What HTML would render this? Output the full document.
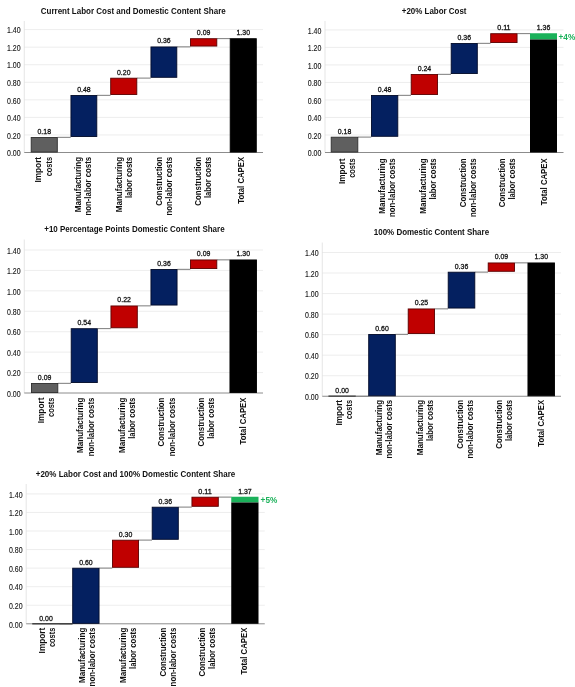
<!DOCTYPE html>
<html lang="en"><head><meta charset="utf-8"><title>Waterfall charts</title>
<style>html,body{margin:0;padding:0;background:#fff}body{width:575px;height:687px;overflow:hidden}svg{display:block}text{font-family:"Liberation Sans", sans-serif}.t{font-size:8.2px;font-weight:bold;fill:#111}.c{font-size:8.6px;font-weight:bold;fill:#111}.y{font-size:8.4px;fill:#151515;stroke:#151515;stroke-width:0.12px}.v{font-size:7.7px;fill:#111;stroke:#111;stroke-width:0.3px}.p{font-size:8.5px;font-weight:bold;fill:#1bb15a}</style></head><body>
<svg width="575" height="687" viewBox="0 0 575 687">
<rect width="575" height="687" fill="#fff"/>
<g>
<text class="t" x="40.75" y="14.05" textLength="184.95" lengthAdjust="spacingAndGlyphs">Current Labor Cost and Domestic Content Share</text>
<line x1="24.25" y1="134.94" x2="263.00" y2="134.94" stroke="#e9e9e9" stroke-width="0.8"/>
<line x1="24.25" y1="117.39" x2="263.00" y2="117.39" stroke="#e9e9e9" stroke-width="0.8"/>
<line x1="24.25" y1="99.83" x2="263.00" y2="99.83" stroke="#e9e9e9" stroke-width="0.8"/>
<line x1="24.25" y1="82.27" x2="263.00" y2="82.27" stroke="#e9e9e9" stroke-width="0.8"/>
<line x1="24.25" y1="64.71" x2="263.00" y2="64.71" stroke="#e9e9e9" stroke-width="0.8"/>
<line x1="24.25" y1="47.16" x2="263.00" y2="47.16" stroke="#e9e9e9" stroke-width="0.8"/>
<line x1="24.25" y1="29.60" x2="263.00" y2="29.60" stroke="#e9e9e9" stroke-width="0.8"/>
<line x1="24.25" y1="21.00" x2="24.25" y2="152.50" stroke="#dedede" stroke-width="0.8"/>
<text class="y" x="20.60" y="156.20" text-anchor="end" textLength="13.6" lengthAdjust="spacingAndGlyphs">0.00</text>
<text class="y" x="20.60" y="138.64" text-anchor="end" textLength="13.6" lengthAdjust="spacingAndGlyphs">0.20</text>
<text class="y" x="20.60" y="121.09" text-anchor="end" textLength="13.6" lengthAdjust="spacingAndGlyphs">0.40</text>
<text class="y" x="20.60" y="103.53" text-anchor="end" textLength="13.6" lengthAdjust="spacingAndGlyphs">0.60</text>
<text class="y" x="20.60" y="85.97" text-anchor="end" textLength="13.6" lengthAdjust="spacingAndGlyphs">0.80</text>
<text class="y" x="20.60" y="68.41" text-anchor="end" textLength="13.6" lengthAdjust="spacingAndGlyphs">1.00</text>
<text class="y" x="20.60" y="50.86" text-anchor="end" textLength="13.6" lengthAdjust="spacingAndGlyphs">1.20</text>
<text class="y" x="20.60" y="33.30" text-anchor="end" textLength="13.6" lengthAdjust="spacingAndGlyphs">1.40</text>
<line x1="24.25" y1="152.50" x2="263.00" y2="152.50" stroke="#8c8c8c" stroke-width="1"/>
<line x1="57.50" y1="137.35" x2="70.75" y2="137.35" stroke="#828282" stroke-width="1.05"/>
<line x1="97.00" y1="95.35" x2="110.50" y2="95.35" stroke="#828282" stroke-width="1.05"/>
<line x1="137.00" y1="78.10" x2="150.75" y2="78.10" stroke="#828282" stroke-width="1.05"/>
<line x1="177.00" y1="46.85" x2="190.25" y2="46.85" stroke="#828282" stroke-width="1.05"/>
<line x1="217.00" y1="38.60" x2="230.00" y2="38.60" stroke="#828282" stroke-width="1.05"/>
<rect x="31.20" y="137.45" width="26.10" height="14.60" fill="#5f5f5f" stroke="#2e2e2e" stroke-width="0.9"/>
<text class="v" x="44.25" y="133.80" text-anchor="middle" textLength="13.5" lengthAdjust="spacingAndGlyphs">0.18</text>
<rect x="70.95" y="95.45" width="25.85" height="41.10" fill="#042060" stroke="#020a28" stroke-width="0.9"/>
<text class="v" x="83.88" y="91.80" text-anchor="middle" textLength="13.5" lengthAdjust="spacingAndGlyphs">0.48</text>
<rect x="110.70" y="78.20" width="26.10" height="16.35" fill="#c00000" stroke="#5a0000" stroke-width="0.9"/>
<text class="v" x="123.75" y="74.55" text-anchor="middle" textLength="13.5" lengthAdjust="spacingAndGlyphs">0.20</text>
<rect x="150.95" y="46.95" width="25.85" height="30.35" fill="#042060" stroke="#020a28" stroke-width="0.9"/>
<text class="v" x="163.88" y="43.30" text-anchor="middle" textLength="13.5" lengthAdjust="spacingAndGlyphs">0.36</text>
<rect x="190.45" y="38.70" width="26.35" height="7.35" fill="#c00000" stroke="#5a0000" stroke-width="0.9"/>
<text class="v" x="203.62" y="35.05" text-anchor="middle" textLength="13.5" lengthAdjust="spacingAndGlyphs">0.09</text>
<rect x="230.20" y="38.70" width="26.10" height="113.35" fill="#000" stroke="#000" stroke-width="0.9"/>
<text class="v" x="243.25" y="35.05" text-anchor="middle" textLength="13.5" lengthAdjust="spacingAndGlyphs">1.30</text>
<text class="c" transform="translate(41.40 156.90) rotate(-90)" text-anchor="end" textLength="25.70" lengthAdjust="spacingAndGlyphs">Import</text>
<text class="c" transform="translate(51.60 156.90) rotate(-90)" text-anchor="end" textLength="19.40" lengthAdjust="spacingAndGlyphs">costs</text>
<text class="c" transform="translate(81.00 156.90) rotate(-90)" text-anchor="end" textLength="55.30" lengthAdjust="spacingAndGlyphs">Manufacturing</text>
<text class="c" transform="translate(91.20 156.90) rotate(-90)" text-anchor="end" textLength="58.70" lengthAdjust="spacingAndGlyphs">non-labor costs</text>
<text class="c" transform="translate(122.20 156.90) rotate(-90)" text-anchor="end" textLength="55.30" lengthAdjust="spacingAndGlyphs">Manufacturing</text>
<text class="c" transform="translate(132.40 156.90) rotate(-90)" text-anchor="end" textLength="41.20" lengthAdjust="spacingAndGlyphs">labor costs</text>
<text class="c" transform="translate(162.00 156.90) rotate(-90)" text-anchor="end" textLength="48.80" lengthAdjust="spacingAndGlyphs">Construction</text>
<text class="c" transform="translate(172.20 156.90) rotate(-90)" text-anchor="end" textLength="58.70" lengthAdjust="spacingAndGlyphs">non-labor costs</text>
<text class="c" transform="translate(201.20 156.90) rotate(-90)" text-anchor="end" textLength="48.80" lengthAdjust="spacingAndGlyphs">Construction</text>
<text class="c" transform="translate(211.40 156.90) rotate(-90)" text-anchor="end" textLength="41.20" lengthAdjust="spacingAndGlyphs">labor costs</text>
<text class="c" transform="translate(243.60 156.90) rotate(-90)" text-anchor="end" textLength="46.80" lengthAdjust="spacingAndGlyphs">Total CAPEX</text>
</g>
<g>
<text class="t" x="401.75" y="14.25" textLength="64.75" lengthAdjust="spacingAndGlyphs">+20% Labor Cost</text>
<line x1="325.00" y1="134.99" x2="563.50" y2="134.99" stroke="#e9e9e9" stroke-width="0.8"/>
<line x1="325.00" y1="117.47" x2="563.50" y2="117.47" stroke="#e9e9e9" stroke-width="0.8"/>
<line x1="325.00" y1="99.96" x2="563.50" y2="99.96" stroke="#e9e9e9" stroke-width="0.8"/>
<line x1="325.00" y1="82.44" x2="563.50" y2="82.44" stroke="#e9e9e9" stroke-width="0.8"/>
<line x1="325.00" y1="64.93" x2="563.50" y2="64.93" stroke="#e9e9e9" stroke-width="0.8"/>
<line x1="325.00" y1="47.41" x2="563.50" y2="47.41" stroke="#e9e9e9" stroke-width="0.8"/>
<line x1="325.00" y1="29.90" x2="563.50" y2="29.90" stroke="#e9e9e9" stroke-width="0.8"/>
<line x1="325.00" y1="21.00" x2="325.00" y2="152.50" stroke="#dedede" stroke-width="0.8"/>
<text class="y" x="321.35" y="156.20" text-anchor="end" textLength="13.6" lengthAdjust="spacingAndGlyphs">0.00</text>
<text class="y" x="321.35" y="138.69" text-anchor="end" textLength="13.6" lengthAdjust="spacingAndGlyphs">0.20</text>
<text class="y" x="321.35" y="121.17" text-anchor="end" textLength="13.6" lengthAdjust="spacingAndGlyphs">0.40</text>
<text class="y" x="321.35" y="103.66" text-anchor="end" textLength="13.6" lengthAdjust="spacingAndGlyphs">0.60</text>
<text class="y" x="321.35" y="86.14" text-anchor="end" textLength="13.6" lengthAdjust="spacingAndGlyphs">0.80</text>
<text class="y" x="321.35" y="68.63" text-anchor="end" textLength="13.6" lengthAdjust="spacingAndGlyphs">1.00</text>
<text class="y" x="321.35" y="51.11" text-anchor="end" textLength="13.6" lengthAdjust="spacingAndGlyphs">1.20</text>
<text class="y" x="321.35" y="33.60" text-anchor="end" textLength="13.6" lengthAdjust="spacingAndGlyphs">1.40</text>
<line x1="325.00" y1="152.50" x2="563.50" y2="152.50" stroke="#8c8c8c" stroke-width="1"/>
<line x1="358.00" y1="137.10" x2="371.25" y2="137.10" stroke="#828282" stroke-width="1.05"/>
<line x1="398.00" y1="95.35" x2="411.00" y2="95.35" stroke="#828282" stroke-width="1.05"/>
<line x1="437.75" y1="74.35" x2="451.00" y2="74.35" stroke="#828282" stroke-width="1.05"/>
<line x1="477.50" y1="43.35" x2="490.50" y2="43.35" stroke="#828282" stroke-width="1.05"/>
<line x1="517.25" y1="33.60" x2="530.25" y2="33.60" stroke="#828282" stroke-width="1.05"/>
<rect x="331.20" y="137.20" width="26.60" height="14.85" fill="#5f5f5f" stroke="#2e2e2e" stroke-width="0.9"/>
<text class="v" x="344.50" y="133.55" text-anchor="middle" textLength="13.5" lengthAdjust="spacingAndGlyphs">0.18</text>
<rect x="371.45" y="95.45" width="26.35" height="40.85" fill="#042060" stroke="#020a28" stroke-width="0.9"/>
<text class="v" x="384.62" y="91.80" text-anchor="middle" textLength="13.5" lengthAdjust="spacingAndGlyphs">0.48</text>
<rect x="411.20" y="74.45" width="26.35" height="20.10" fill="#c00000" stroke="#5a0000" stroke-width="0.9"/>
<text class="v" x="424.38" y="70.80" text-anchor="middle" textLength="13.5" lengthAdjust="spacingAndGlyphs">0.24</text>
<rect x="451.20" y="43.45" width="26.10" height="30.10" fill="#042060" stroke="#020a28" stroke-width="0.9"/>
<text class="v" x="464.25" y="39.80" text-anchor="middle" textLength="13.5" lengthAdjust="spacingAndGlyphs">0.36</text>
<rect x="490.70" y="33.70" width="26.35" height="8.85" fill="#c00000" stroke="#5a0000" stroke-width="0.9"/>
<text class="v" x="503.88" y="30.05" text-anchor="middle" textLength="13.5" lengthAdjust="spacingAndGlyphs">0.11</text>
<rect x="530.00" y="33.25" width="27.00" height="6.25" fill="#1bb15a"/>
<rect x="530.00" y="39.50" width="27.00" height="113.00" fill="#000"/>
<text class="v" x="543.50" y="30.05" text-anchor="middle" textLength="13.5" lengthAdjust="spacingAndGlyphs">1.36</text>
<text class="p" x="558.50" y="40.00" textLength="16.7" lengthAdjust="spacingAndGlyphs">+4%</text>
<text class="c" transform="translate(345.10 158.40) rotate(-90)" text-anchor="end" textLength="25.70" lengthAdjust="spacingAndGlyphs">Import</text>
<text class="c" transform="translate(355.30 158.40) rotate(-90)" text-anchor="end" textLength="19.40" lengthAdjust="spacingAndGlyphs">costs</text>
<text class="c" transform="translate(384.70 158.40) rotate(-90)" text-anchor="end" textLength="55.30" lengthAdjust="spacingAndGlyphs">Manufacturing</text>
<text class="c" transform="translate(394.90 158.40) rotate(-90)" text-anchor="end" textLength="58.70" lengthAdjust="spacingAndGlyphs">non-labor costs</text>
<text class="c" transform="translate(425.90 158.40) rotate(-90)" text-anchor="end" textLength="55.30" lengthAdjust="spacingAndGlyphs">Manufacturing</text>
<text class="c" transform="translate(436.10 158.40) rotate(-90)" text-anchor="end" textLength="41.20" lengthAdjust="spacingAndGlyphs">labor costs</text>
<text class="c" transform="translate(465.70 158.40) rotate(-90)" text-anchor="end" textLength="48.80" lengthAdjust="spacingAndGlyphs">Construction</text>
<text class="c" transform="translate(475.90 158.40) rotate(-90)" text-anchor="end" textLength="58.70" lengthAdjust="spacingAndGlyphs">non-labor costs</text>
<text class="c" transform="translate(504.90 158.40) rotate(-90)" text-anchor="end" textLength="48.80" lengthAdjust="spacingAndGlyphs">Construction</text>
<text class="c" transform="translate(515.10 158.40) rotate(-90)" text-anchor="end" textLength="41.20" lengthAdjust="spacingAndGlyphs">labor costs</text>
<text class="c" transform="translate(547.30 158.40) rotate(-90)" text-anchor="end" textLength="46.80" lengthAdjust="spacingAndGlyphs">Total CAPEX</text>
</g>
<g>
<text class="t" x="44.25" y="232.15" textLength="180.35" lengthAdjust="spacingAndGlyphs">+10 Percentage Points Domestic Content Share</text>
<line x1="24.25" y1="372.57" x2="263.00" y2="372.57" stroke="#e9e9e9" stroke-width="0.8"/>
<line x1="24.25" y1="352.14" x2="263.00" y2="352.14" stroke="#e9e9e9" stroke-width="0.8"/>
<line x1="24.25" y1="331.71" x2="263.00" y2="331.71" stroke="#e9e9e9" stroke-width="0.8"/>
<line x1="24.25" y1="311.29" x2="263.00" y2="311.29" stroke="#e9e9e9" stroke-width="0.8"/>
<line x1="24.25" y1="290.86" x2="263.00" y2="290.86" stroke="#e9e9e9" stroke-width="0.8"/>
<line x1="24.25" y1="270.43" x2="263.00" y2="270.43" stroke="#e9e9e9" stroke-width="0.8"/>
<line x1="24.25" y1="250.00" x2="263.00" y2="250.00" stroke="#e9e9e9" stroke-width="0.8"/>
<line x1="24.25" y1="239.50" x2="24.25" y2="393.00" stroke="#dedede" stroke-width="0.8"/>
<text class="y" x="20.60" y="396.70" text-anchor="end" textLength="13.6" lengthAdjust="spacingAndGlyphs">0.00</text>
<text class="y" x="20.60" y="376.27" text-anchor="end" textLength="13.6" lengthAdjust="spacingAndGlyphs">0.20</text>
<text class="y" x="20.60" y="355.84" text-anchor="end" textLength="13.6" lengthAdjust="spacingAndGlyphs">0.40</text>
<text class="y" x="20.60" y="335.41" text-anchor="end" textLength="13.6" lengthAdjust="spacingAndGlyphs">0.60</text>
<text class="y" x="20.60" y="314.99" text-anchor="end" textLength="13.6" lengthAdjust="spacingAndGlyphs">0.80</text>
<text class="y" x="20.60" y="294.56" text-anchor="end" textLength="13.6" lengthAdjust="spacingAndGlyphs">1.00</text>
<text class="y" x="20.60" y="274.13" text-anchor="end" textLength="13.6" lengthAdjust="spacingAndGlyphs">1.20</text>
<text class="y" x="20.60" y="253.70" text-anchor="end" textLength="13.6" lengthAdjust="spacingAndGlyphs">1.40</text>
<line x1="24.25" y1="393.00" x2="263.00" y2="393.00" stroke="#8c8c8c" stroke-width="1"/>
<line x1="58.00" y1="383.35" x2="71.00" y2="383.35" stroke="#828282" stroke-width="1.05"/>
<line x1="97.50" y1="328.60" x2="110.75" y2="328.60" stroke="#828282" stroke-width="1.05"/>
<line x1="137.50" y1="305.85" x2="150.75" y2="305.85" stroke="#828282" stroke-width="1.05"/>
<line x1="177.25" y1="269.35" x2="190.25" y2="269.35" stroke="#828282" stroke-width="1.05"/>
<line x1="217.00" y1="259.85" x2="229.75" y2="259.85" stroke="#828282" stroke-width="1.05"/>
<rect x="31.45" y="383.45" width="26.35" height="9.10" fill="#5f5f5f" stroke="#2e2e2e" stroke-width="0.9"/>
<text class="v" x="44.62" y="379.80" text-anchor="middle" textLength="13.5" lengthAdjust="spacingAndGlyphs">0.09</text>
<rect x="71.20" y="328.70" width="26.10" height="53.85" fill="#042060" stroke="#020a28" stroke-width="0.9"/>
<text class="v" x="84.25" y="325.05" text-anchor="middle" textLength="13.5" lengthAdjust="spacingAndGlyphs">0.54</text>
<rect x="110.95" y="305.95" width="26.35" height="21.85" fill="#c00000" stroke="#5a0000" stroke-width="0.9"/>
<text class="v" x="124.12" y="302.30" text-anchor="middle" textLength="13.5" lengthAdjust="spacingAndGlyphs">0.22</text>
<rect x="150.95" y="269.45" width="26.10" height="35.60" fill="#042060" stroke="#020a28" stroke-width="0.9"/>
<text class="v" x="164.00" y="265.80" text-anchor="middle" textLength="13.5" lengthAdjust="spacingAndGlyphs">0.36</text>
<rect x="190.45" y="259.95" width="26.35" height="8.60" fill="#c00000" stroke="#5a0000" stroke-width="0.9"/>
<text class="v" x="203.62" y="256.30" text-anchor="middle" textLength="13.5" lengthAdjust="spacingAndGlyphs">0.09</text>
<rect x="229.95" y="259.95" width="26.60" height="132.60" fill="#000" stroke="#000" stroke-width="0.9"/>
<text class="v" x="243.25" y="256.30" text-anchor="middle" textLength="13.5" lengthAdjust="spacingAndGlyphs">1.30</text>
<text class="c" transform="translate(43.80 397.60) rotate(-90)" text-anchor="end" textLength="25.70" lengthAdjust="spacingAndGlyphs">Import</text>
<text class="c" transform="translate(54.00 397.60) rotate(-90)" text-anchor="end" textLength="19.40" lengthAdjust="spacingAndGlyphs">costs</text>
<text class="c" transform="translate(83.40 397.60) rotate(-90)" text-anchor="end" textLength="55.30" lengthAdjust="spacingAndGlyphs">Manufacturing</text>
<text class="c" transform="translate(93.60 397.60) rotate(-90)" text-anchor="end" textLength="58.70" lengthAdjust="spacingAndGlyphs">non-labor costs</text>
<text class="c" transform="translate(124.60 397.60) rotate(-90)" text-anchor="end" textLength="55.30" lengthAdjust="spacingAndGlyphs">Manufacturing</text>
<text class="c" transform="translate(134.80 397.60) rotate(-90)" text-anchor="end" textLength="41.20" lengthAdjust="spacingAndGlyphs">labor costs</text>
<text class="c" transform="translate(164.40 397.60) rotate(-90)" text-anchor="end" textLength="48.80" lengthAdjust="spacingAndGlyphs">Construction</text>
<text class="c" transform="translate(174.60 397.60) rotate(-90)" text-anchor="end" textLength="58.70" lengthAdjust="spacingAndGlyphs">non-labor costs</text>
<text class="c" transform="translate(203.60 397.60) rotate(-90)" text-anchor="end" textLength="48.80" lengthAdjust="spacingAndGlyphs">Construction</text>
<text class="c" transform="translate(213.80 397.60) rotate(-90)" text-anchor="end" textLength="41.20" lengthAdjust="spacingAndGlyphs">labor costs</text>
<text class="c" transform="translate(246.00 397.60) rotate(-90)" text-anchor="end" textLength="46.80" lengthAdjust="spacingAndGlyphs">Total CAPEX</text>
</g>
<g>
<text class="t" x="373.75" y="235.15" textLength="115.35" lengthAdjust="spacingAndGlyphs">100% Domestic Content Share</text>
<line x1="322.25" y1="375.71" x2="561.00" y2="375.71" stroke="#e9e9e9" stroke-width="0.8"/>
<line x1="322.25" y1="355.18" x2="561.00" y2="355.18" stroke="#e9e9e9" stroke-width="0.8"/>
<line x1="322.25" y1="334.64" x2="561.00" y2="334.64" stroke="#e9e9e9" stroke-width="0.8"/>
<line x1="322.25" y1="314.11" x2="561.00" y2="314.11" stroke="#e9e9e9" stroke-width="0.8"/>
<line x1="322.25" y1="293.57" x2="561.00" y2="293.57" stroke="#e9e9e9" stroke-width="0.8"/>
<line x1="322.25" y1="273.04" x2="561.00" y2="273.04" stroke="#e9e9e9" stroke-width="0.8"/>
<line x1="322.25" y1="252.50" x2="561.00" y2="252.50" stroke="#e9e9e9" stroke-width="0.8"/>
<line x1="322.25" y1="242.50" x2="322.25" y2="396.25" stroke="#dedede" stroke-width="0.8"/>
<text class="y" x="318.60" y="399.95" text-anchor="end" textLength="13.6" lengthAdjust="spacingAndGlyphs">0.00</text>
<text class="y" x="318.60" y="379.41" text-anchor="end" textLength="13.6" lengthAdjust="spacingAndGlyphs">0.20</text>
<text class="y" x="318.60" y="358.88" text-anchor="end" textLength="13.6" lengthAdjust="spacingAndGlyphs">0.40</text>
<text class="y" x="318.60" y="338.34" text-anchor="end" textLength="13.6" lengthAdjust="spacingAndGlyphs">0.60</text>
<text class="y" x="318.60" y="317.81" text-anchor="end" textLength="13.6" lengthAdjust="spacingAndGlyphs">0.80</text>
<text class="y" x="318.60" y="297.27" text-anchor="end" textLength="13.6" lengthAdjust="spacingAndGlyphs">1.00</text>
<text class="y" x="318.60" y="276.74" text-anchor="end" textLength="13.6" lengthAdjust="spacingAndGlyphs">1.20</text>
<text class="y" x="318.60" y="256.20" text-anchor="end" textLength="13.6" lengthAdjust="spacingAndGlyphs">1.40</text>
<line x1="322.25" y1="396.25" x2="561.00" y2="396.25" stroke="#8c8c8c" stroke-width="1"/>
<line x1="355.50" y1="396.25" x2="368.50" y2="396.25" stroke="#828282" stroke-width="1.05"/>
<line x1="395.50" y1="334.35" x2="408.00" y2="334.35" stroke="#828282" stroke-width="1.05"/>
<line x1="434.75" y1="308.85" x2="448.00" y2="308.85" stroke="#828282" stroke-width="1.05"/>
<line x1="475.00" y1="272.10" x2="488.00" y2="272.10" stroke="#828282" stroke-width="1.05"/>
<line x1="514.75" y1="262.85" x2="527.75" y2="262.85" stroke="#828282" stroke-width="1.05"/>
<line x1="328.45" y1="396.15" x2="355.75" y2="396.15" stroke="#444" stroke-width="1.4"/>
<text class="v" x="342.10" y="393.05" text-anchor="middle" textLength="13.5" lengthAdjust="spacingAndGlyphs">0.00</text>
<rect x="368.70" y="334.45" width="26.60" height="61.35" fill="#042060" stroke="#020a28" stroke-width="0.9"/>
<text class="v" x="382.00" y="330.80" text-anchor="middle" textLength="13.5" lengthAdjust="spacingAndGlyphs">0.60</text>
<rect x="408.20" y="308.95" width="26.35" height="24.60" fill="#c00000" stroke="#5a0000" stroke-width="0.9"/>
<text class="v" x="421.38" y="305.30" text-anchor="middle" textLength="13.5" lengthAdjust="spacingAndGlyphs">0.25</text>
<rect x="448.20" y="272.20" width="26.60" height="35.85" fill="#042060" stroke="#020a28" stroke-width="0.9"/>
<text class="v" x="461.50" y="268.55" text-anchor="middle" textLength="13.5" lengthAdjust="spacingAndGlyphs">0.36</text>
<rect x="488.20" y="262.95" width="26.35" height="8.35" fill="#c00000" stroke="#5a0000" stroke-width="0.9"/>
<text class="v" x="501.38" y="259.30" text-anchor="middle" textLength="13.5" lengthAdjust="spacingAndGlyphs">0.09</text>
<rect x="527.95" y="262.95" width="26.60" height="132.85" fill="#000" stroke="#000" stroke-width="0.9"/>
<text class="v" x="541.25" y="259.30" text-anchor="middle" textLength="13.5" lengthAdjust="spacingAndGlyphs">1.30</text>
<text class="c" transform="translate(342.20 399.90) rotate(-90)" text-anchor="end" textLength="25.70" lengthAdjust="spacingAndGlyphs">Import</text>
<text class="c" transform="translate(352.40 399.90) rotate(-90)" text-anchor="end" textLength="19.40" lengthAdjust="spacingAndGlyphs">costs</text>
<text class="c" transform="translate(381.80 399.90) rotate(-90)" text-anchor="end" textLength="55.30" lengthAdjust="spacingAndGlyphs">Manufacturing</text>
<text class="c" transform="translate(392.00 399.90) rotate(-90)" text-anchor="end" textLength="58.70" lengthAdjust="spacingAndGlyphs">non-labor costs</text>
<text class="c" transform="translate(423.00 399.90) rotate(-90)" text-anchor="end" textLength="55.30" lengthAdjust="spacingAndGlyphs">Manufacturing</text>
<text class="c" transform="translate(433.20 399.90) rotate(-90)" text-anchor="end" textLength="41.20" lengthAdjust="spacingAndGlyphs">labor costs</text>
<text class="c" transform="translate(462.80 399.90) rotate(-90)" text-anchor="end" textLength="48.80" lengthAdjust="spacingAndGlyphs">Construction</text>
<text class="c" transform="translate(473.00 399.90) rotate(-90)" text-anchor="end" textLength="58.70" lengthAdjust="spacingAndGlyphs">non-labor costs</text>
<text class="c" transform="translate(502.00 399.90) rotate(-90)" text-anchor="end" textLength="48.80" lengthAdjust="spacingAndGlyphs">Construction</text>
<text class="c" transform="translate(512.20 399.90) rotate(-90)" text-anchor="end" textLength="41.20" lengthAdjust="spacingAndGlyphs">labor costs</text>
<text class="c" transform="translate(544.40 399.90) rotate(-90)" text-anchor="end" textLength="46.80" lengthAdjust="spacingAndGlyphs">Total CAPEX</text>
</g>
<g>
<text class="t" x="35.75" y="477.15" textLength="199.45" lengthAdjust="spacingAndGlyphs">+20% Labor Cost and 100% Domestic Content Share</text>
<line x1="26.20" y1="605.24" x2="264.75" y2="605.24" stroke="#e9e9e9" stroke-width="0.8"/>
<line x1="26.20" y1="586.69" x2="264.75" y2="586.69" stroke="#e9e9e9" stroke-width="0.8"/>
<line x1="26.20" y1="568.13" x2="264.75" y2="568.13" stroke="#e9e9e9" stroke-width="0.8"/>
<line x1="26.20" y1="549.57" x2="264.75" y2="549.57" stroke="#e9e9e9" stroke-width="0.8"/>
<line x1="26.20" y1="531.01" x2="264.75" y2="531.01" stroke="#e9e9e9" stroke-width="0.8"/>
<line x1="26.20" y1="512.46" x2="264.75" y2="512.46" stroke="#e9e9e9" stroke-width="0.8"/>
<line x1="26.20" y1="493.90" x2="264.75" y2="493.90" stroke="#e9e9e9" stroke-width="0.8"/>
<line x1="26.20" y1="484.00" x2="26.20" y2="623.80" stroke="#dedede" stroke-width="0.8"/>
<text class="y" x="22.55" y="627.50" text-anchor="end" textLength="13.6" lengthAdjust="spacingAndGlyphs">0.00</text>
<text class="y" x="22.55" y="608.94" text-anchor="end" textLength="13.6" lengthAdjust="spacingAndGlyphs">0.20</text>
<text class="y" x="22.55" y="590.39" text-anchor="end" textLength="13.6" lengthAdjust="spacingAndGlyphs">0.40</text>
<text class="y" x="22.55" y="571.83" text-anchor="end" textLength="13.6" lengthAdjust="spacingAndGlyphs">0.60</text>
<text class="y" x="22.55" y="553.27" text-anchor="end" textLength="13.6" lengthAdjust="spacingAndGlyphs">0.80</text>
<text class="y" x="22.55" y="534.71" text-anchor="end" textLength="13.6" lengthAdjust="spacingAndGlyphs">1.00</text>
<text class="y" x="22.55" y="516.16" text-anchor="end" textLength="13.6" lengthAdjust="spacingAndGlyphs">1.20</text>
<text class="y" x="22.55" y="497.60" text-anchor="end" textLength="13.6" lengthAdjust="spacingAndGlyphs">1.40</text>
<line x1="26.20" y1="623.80" x2="264.75" y2="623.80" stroke="#8c8c8c" stroke-width="1"/>
<line x1="59.50" y1="623.80" x2="72.50" y2="623.80" stroke="#828282" stroke-width="1.05"/>
<line x1="99.25" y1="568.10" x2="112.25" y2="568.10" stroke="#828282" stroke-width="1.05"/>
<line x1="138.75" y1="540.10" x2="152.00" y2="540.10" stroke="#828282" stroke-width="1.05"/>
<line x1="178.50" y1="507.10" x2="191.75" y2="507.10" stroke="#828282" stroke-width="1.05"/>
<line x1="218.50" y1="497.10" x2="231.50" y2="497.10" stroke="#828282" stroke-width="1.05"/>
<line x1="32.25" y1="623.70" x2="72.50" y2="623.70" stroke="#444" stroke-width="1.4"/>
<text class="v" x="46.00" y="620.60" text-anchor="middle" textLength="13.5" lengthAdjust="spacingAndGlyphs">0.00</text>
<rect x="72.70" y="568.20" width="26.35" height="55.15" fill="#042060" stroke="#020a28" stroke-width="0.9"/>
<text class="v" x="85.88" y="564.55" text-anchor="middle" textLength="13.5" lengthAdjust="spacingAndGlyphs">0.60</text>
<rect x="112.45" y="540.20" width="26.10" height="27.10" fill="#c00000" stroke="#5a0000" stroke-width="0.9"/>
<text class="v" x="125.50" y="536.55" text-anchor="middle" textLength="13.5" lengthAdjust="spacingAndGlyphs">0.30</text>
<rect x="152.20" y="507.20" width="26.10" height="32.10" fill="#042060" stroke="#020a28" stroke-width="0.9"/>
<text class="v" x="165.25" y="503.55" text-anchor="middle" textLength="13.5" lengthAdjust="spacingAndGlyphs">0.36</text>
<rect x="191.95" y="497.20" width="26.35" height="9.10" fill="#c00000" stroke="#5a0000" stroke-width="0.9"/>
<text class="v" x="205.12" y="493.55" text-anchor="middle" textLength="13.5" lengthAdjust="spacingAndGlyphs">0.11</text>
<rect x="231.25" y="496.75" width="27.25" height="5.75" fill="#1bb15a"/>
<rect x="231.25" y="502.50" width="27.25" height="121.30" fill="#000"/>
<text class="v" x="244.88" y="493.55" text-anchor="middle" textLength="13.5" lengthAdjust="spacingAndGlyphs">1.37</text>
<text class="p" x="260.60" y="503.00" textLength="16.7" lengthAdjust="spacingAndGlyphs">+5%</text>
<text class="c" transform="translate(45.00 627.70) rotate(-90)" text-anchor="end" textLength="25.70" lengthAdjust="spacingAndGlyphs">Import</text>
<text class="c" transform="translate(55.20 627.70) rotate(-90)" text-anchor="end" textLength="19.40" lengthAdjust="spacingAndGlyphs">costs</text>
<text class="c" transform="translate(84.60 627.70) rotate(-90)" text-anchor="end" textLength="55.30" lengthAdjust="spacingAndGlyphs">Manufacturing</text>
<text class="c" transform="translate(94.80 627.70) rotate(-90)" text-anchor="end" textLength="58.70" lengthAdjust="spacingAndGlyphs">non-labor costs</text>
<text class="c" transform="translate(125.80 627.70) rotate(-90)" text-anchor="end" textLength="55.30" lengthAdjust="spacingAndGlyphs">Manufacturing</text>
<text class="c" transform="translate(136.00 627.70) rotate(-90)" text-anchor="end" textLength="41.20" lengthAdjust="spacingAndGlyphs">labor costs</text>
<text class="c" transform="translate(165.60 627.70) rotate(-90)" text-anchor="end" textLength="48.80" lengthAdjust="spacingAndGlyphs">Construction</text>
<text class="c" transform="translate(175.80 627.70) rotate(-90)" text-anchor="end" textLength="58.70" lengthAdjust="spacingAndGlyphs">non-labor costs</text>
<text class="c" transform="translate(204.80 627.70) rotate(-90)" text-anchor="end" textLength="48.80" lengthAdjust="spacingAndGlyphs">Construction</text>
<text class="c" transform="translate(215.00 627.70) rotate(-90)" text-anchor="end" textLength="41.20" lengthAdjust="spacingAndGlyphs">labor costs</text>
<text class="c" transform="translate(247.20 627.70) rotate(-90)" text-anchor="end" textLength="46.80" lengthAdjust="spacingAndGlyphs">Total CAPEX</text>
</g>
</svg></body></html>
